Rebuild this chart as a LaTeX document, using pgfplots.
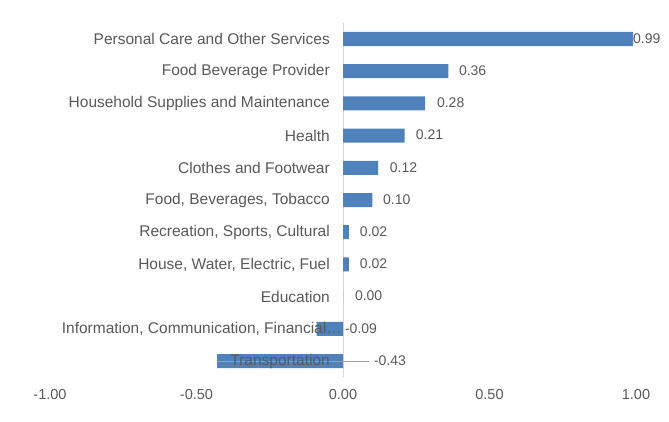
\documentclass[border=0pt]{standalone}
\usepackage{pgfplots}
\pgfplotsset{compat=1.18}
\usepackage{fontspec}
\setmainfont{Liberation Sans}
\definecolor{barblue}{HTML}{4F81BD}
\definecolor{txtgray}{HTML}{595959}
\definecolor{zerogray}{HTML}{D9D9D9}
\begin{document}
\begin{tikzpicture}
\useasboundingbox (0,0) rectangle (669pt,421pt);
\begin{axis}[
  at={(50pt,43.9pt)}, anchor=south west,
  scale only axis, width=586pt, height=354.2pt,
  xmin=-1, xmax=1, ymin=-0.5, ymax=10.5,
  clip=false, axis on top,
  axis line style={draw=none},
  tick style={draw=none},
  xtick={-1,-0.5,0,0.5,1},
  xticklabels={-1.00,-0.50,0.00,0.50,1.00},
  xticklabel style={inner sep=0pt, yshift=-12pt, font=\fontsize{14.5}{17}\selectfont, text=txtgray},
  ytick={0,1,2,3,4,5,6,7,8,9,10},
  yticklabels={Transportation,{Information, Communication, Financial\ldots\kern-12pt},Education,{House, Water, Electric, Fuel},{Recreation, Sports, Cultural},{Food, Beverages, Tobacco},Clothes and Footwear,Health,Household Supplies and Maintenance,Food Beverage Provider,Personal Care and Other Services},
  yticklabel style={anchor=east, inner sep=0pt, xshift=280pt, font=\fontsize{15.5}{18}\selectfont, text=txtgray},
]
\addplot[zerogray, line width=0.8pt] coordinates {(0,-0.5) (0,10.5)};
\addplot[xbar, bar shift=0pt, bar width=14pt, fill=barblue, draw=none] coordinates {
  (-0.43,0) (-0.09,1) (0.00,2) (0.02,3) (0.02,4) (0.10,5) (0.12,6) (0.21,7) (0.28,8) (0.36,9) (0.99,10)};
\addplot[color=black!38, line width=0.7pt] coordinates {(-0.43,0) (0.089,0)};
\addplot[draw=none, mark=none, point meta=explicit symbolic,
  nodes near coords={\makebox[0pt][l]{\raisebox{-5pt}[0pt][0pt]{\pgfplotspointmeta}}},
  every node near coord/.append style={inner sep=0pt, font=\fontsize{14}{17}\selectfont, text=txtgray}]
  table[meta=lab] {
x y lab
0.106 0 -0.43
0.007 1 -0.09
0.041 2 0.00
0.058 3 0.02
0.058 4 0.02
0.137 5 0.10
0.160 6 0.12
0.249 7 0.21
0.321 8 0.28
0.396 9 0.36
0.990 10 0.99
};
\end{axis}
\end{tikzpicture}
\end{document}
